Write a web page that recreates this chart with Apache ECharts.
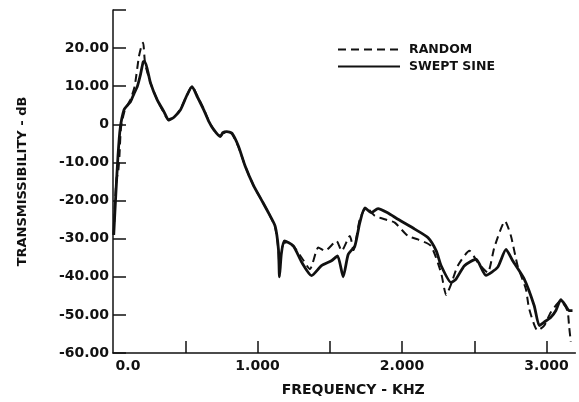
<!DOCTYPE html>
<html>
<head>
<meta charset="utf-8">
<script src="https://cdn.jsdelivr.net/npm/echarts@6/dist/echarts.min.js"></script>
<style>
html,body{margin:0;padding:0;background:#fff;}
#c{width:579px;height:402px;}
</style>
</head>
<body>
<div id="c"></div>
<script>
// ---- Data (frequency in kHz, transmissibility in dB) ----
var sweptFreq = [0.005,0.02,0.035,0.05,0.076,0.1,0.122,0.145,0.168,0.19,0.209,0.22,0.26,0.306,0.35,0.386,0.42,0.467,0.51,0.547,0.58,0.628,0.66,0.697,0.743,0.76,0.788,0.823,0.869,0.915,0.972,1.03,1.08,1.122,1.145,1.152,1.165,1.186,1.248,1.306,1.374,1.443,1.512,1.554,1.593,1.628,1.674,1.708,1.743,1.788,1.834,1.9,1.972,2.088,2.179,2.237,2.271,2.34,2.374,2.432,2.512,2.581,2.662,2.72,2.766,2.846,2.915,2.95,2.984,3.03,3.064,3.099,3.133,3.156,3.18];
var sweptDb = [-29,-18,-8,-1,3.8,5,6,8,9.9,13,16.4,16.5,10.8,6.4,3.5,1.2,1.8,3.8,7.5,9.9,7.5,3.8,1,-1.4,-3.2,-2.2,-1.9,-2.3,-5.8,-11,-16,-20,-23.5,-26.7,-32.8,-40,-34,-30.6,-31.9,-36.2,-39.7,-37.1,-35.8,-34.5,-40,-34.1,-31.9,-25.8,-21.9,-23.2,-22.1,-23.2,-24.9,-27.5,-29.7,-33.2,-37.1,-41.5,-40.6,-37.1,-35.4,-39.6,-37.5,-32.8,-35.8,-40.6,-47.6,-52.8,-51.9,-50.6,-48.9,-46,-47.6,-48.9,-48.9];

var randomFreq = [0.005,0.015,0.025,0.035,0.045,0.055,0.08,0.12,0.15,0.179,0.2,0.209,0.222,0.26,0.306,0.35,0.386,0.42,0.467,0.51,0.547,0.58,0.628,0.66,0.697,0.743,0.76,0.788,0.823,0.869,0.915,0.972,1.03,1.08,1.122,1.145,1.152,1.165,1.19,1.248,1.306,1.363,1.421,1.467,1.547,1.582,1.639,1.665,1.708,1.754,1.812,1.88,1.95,2.041,2.11,2.2,2.27,2.306,2.34,2.386,2.467,2.524,2.593,2.639,2.713,2.754,2.8,2.857,2.88,2.938,2.984,3.03,3.099,3.145,3.156,3.168];
var randomDb = [-29,-20,-14,-13,-8,-1,3.5,6.5,10,17.7,21,21.4,16,10.8,6.4,3.2,1,1.8,4,7.5,10,7.8,4,1.2,-1.4,-3,-2.4,-2,-2.5,-6,-11,-16,-20,-23.5,-27,-33,-38,-33,-31,-32,-35,-38,-32.3,-33.2,-30.6,-33.2,-29.3,-33,-24.9,-21.9,-24,-24.9,-25.8,-29.3,-30.2,-31.9,-38.9,-44.8,-41.9,-37.1,-33.2,-36.2,-38.9,-32.3,-25.4,-29.3,-37.1,-43.2,-48.4,-54.1,-52.8,-49.3,-46.3,-48.9,-52.8,-57.1];

var seriesNames = ['RANDOM', 'SWEPT SINE'];
var xTicks = [0.5,1,1.5,2,2.5,3];
var xLabels = [0,1,2,3];
var yTicks = [-60,-50,-40,-30,-20,-10,0,10,20,30];
var yLabels = [-60,-50,-40,-30,-20,-10,0,10,20];
var xTitle = 'FREQUENCY - KHZ';
var yTitle = 'TRANSMISSIBILITY - dB';

function zip(a, b) { return a.map(function (v, i) { return [v, b[i]]; }); }

var FONT = 'DejaVu Sans';
var chart = echarts.init(document.getElementById('c'), null, {renderer: 'canvas'});
chart.setOption({
  animation: false,
  backgroundColor: '#fff',
  grid: {left: 113, top: 10, width: 462.4, height: 344.3, containLabel: false},
  legend: {
    orient: 'vertical',
    left: 332, top: 38,
    itemWidth: 62, itemHeight: 14, itemGap: 4,
    data: seriesNames,
    itemStyle: {color: 'rgba(0,0,0,0)', borderWidth: 0, borderColor: 'rgba(0,0,0,0)'},
    textStyle: {fontFamily: FONT, fontSize: 12.5, fontWeight: 'bold', color: '#111', padding: [0,0,0,4]}
  },
  xAxis: {
    type: 'value', min: 0, max: 3.2,
    axisLine: {show: true, onZero: false, lineStyle: {color: '#111', width: 1.5}},
    axisTick: {show: true, inside: true, length: 12, customValues: xTicks, lineStyle: {color: '#111', width: 1.5}},
    axisLabel: {
      customValues: xLabels, margin: 6,
      fontFamily: FONT, fontSize: 14, fontWeight: 'bold', color: '#111',
      formatter: function (v) { return v === 0 ? '{z|0.0}' : v.toFixed(3); },
      rich: {z: {fontFamily: FONT, fontSize: 14, fontWeight: 'bold', color: '#111', padding: [0,0,0,30]}}
    },
    splitLine: {show: false},
    name: xTitle, nameLocation: 'middle', nameGap: 30,
    nameTextStyle: {fontFamily: FONT, fontSize: 14, fontWeight: 'bold', color: '#111', padding: [0,0,0,18]}
  },
  yAxis: {
    type: 'value', min: -60, max: 30,
    axisLine: {show: true, onZero: false, lineStyle: {color: '#111', width: 1.5}},
    axisTick: {show: true, inside: true, length: 13, customValues: yTicks, lineStyle: {color: '#111', width: 1.5}},
    axisLabel: {
      customValues: yLabels, margin: 4,
      fontFamily: FONT, fontSize: 14, fontWeight: 'bold', color: '#111',
      formatter: function (v) { return v === 0 ? '0' : v.toFixed(2); }
    },
    splitLine: {show: false},
    name: yTitle, nameLocation: 'middle', nameGap: 84, nameRotate: 90,
    nameTextStyle: {fontFamily: FONT, fontSize: 13, fontWeight: 'bold', color: '#111'}
  },
  series: [
    {
      name: seriesNames[0], type: 'line', symbol: 'none', smooth: 0.2,
      data: zip(randomFreq, randomDb),
      lineStyle: {color: '#111', width: 2, type: [8, 5]},
      itemStyle: {color: '#111'}
    },
    {
      name: seriesNames[1], type: 'line', symbol: 'none', smooth: 0.2,
      data: zip(sweptFreq, sweptDb),
      lineStyle: {color: '#111', width: 2.8},
      itemStyle: {color: '#111'}
    }
  ]
});
</script>
</body>
</html>
